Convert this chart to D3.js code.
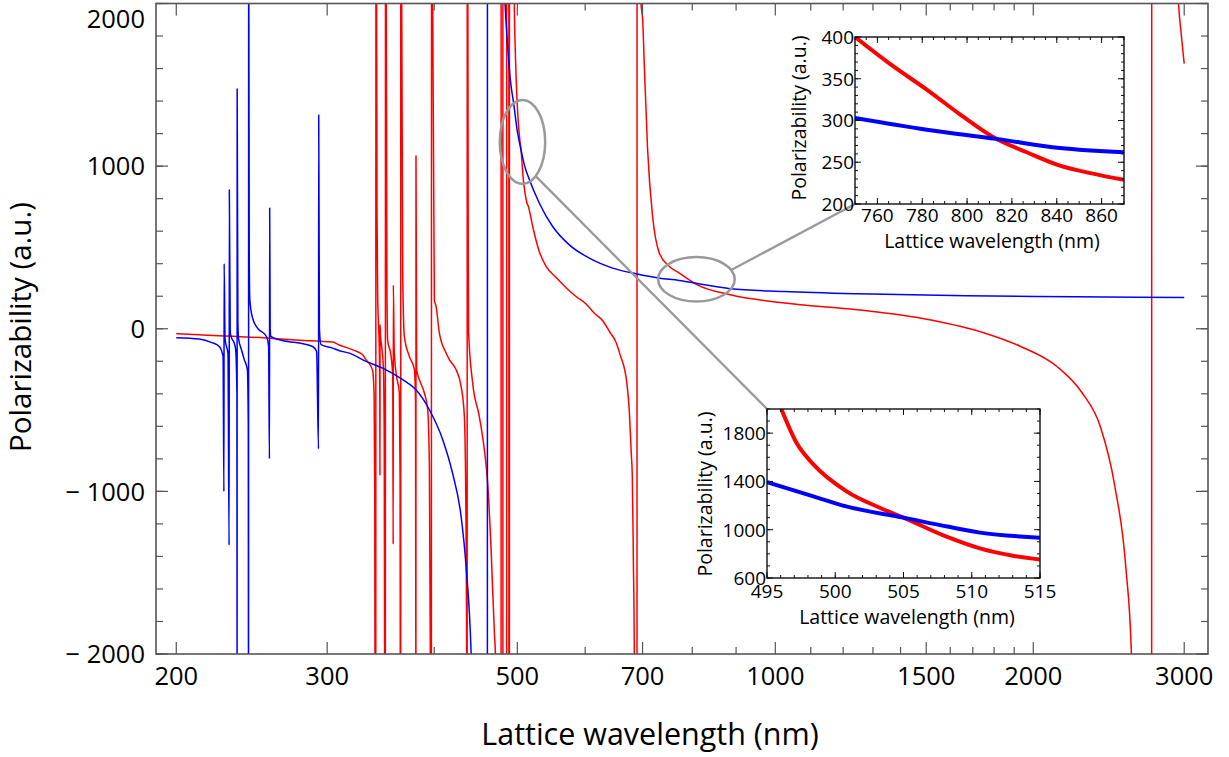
<!DOCTYPE html>
<html>
<head>
<meta charset="utf-8">
<script src="https://cdn.jsdelivr.net/npm/d3@7"></script>
<style>
    html, body { margin: 0; padding: 0; background: #fff; }
    svg { display: block; font-family: 'Open Sans', sans-serif; }
</style>
</head>
<body>
<svg id="chart" width="1229" height="757"></svg>
<script>
// [wavelength (nm), polarizability (a.u.)]; +/-1e4 = off scale
const redCurve = [
    [200, -31], [212.7, -37], [254.5, -57], [278.3, -70], [304.4, -82], [310, -100],
    [318.4, -122], [325, -140], [330, -160], [333, -190], [336, -215], [339, -260],
    [340.3, -400], [340.9, -1000], [341.2, -2600], [341.6, -1e4], [342.2, 1e4],
    [342.6, 2000], [343, 700], [343.6, 200], [344.5, 0], [345.2, -150], [345.55, -400],
    [345.7, -903], [345.8, 25], [346.2, -40], [347.5, -120], [349, -260], [349.7, -700],
    [350.2, -2600], [350.6, -1e4], [351, 1e4], [351.6, 2000], [352.2, 300], [352.9, -68],
    [356.2, -170], [357.8, -300], [358.2, -1325], [358.35, 268], [359.2, -130], [361, -272],
    [364.2, -395], [364.9, -900], [365.2, -2600], [365.4, -1e4], [365.7, 1e4], [366.5, 2000],
    [367.5, 342], [369.1, -47], [374.1, -170], [379.2, -252], [380.4, -450], [380.75, -2600],
    [380.85, 1063], [381.5, -250], [384.3, -313], [389.5, -395], [393, -498], [394.8, -846],
    [395.8, -2000], [396.5, -1e4], [397.5, 1e4], [398.3, 2000], [400.1, 178], [402, 137],
    [405.5, -25], [412.9, -149], [416.6, -190], [424.2, -252], [429.9, -354], [433.7, -539],
    [435.7, -1253], [436.4, -2000], [436.8, -1e4], [437.2, 1e4], [437.8, 2000], [438.3, 400],
    [438.7, -26], [443.5, -334], [451.5, -540], [457.6, -743], [461.7, -948], [466, -1358],
    [470.1, -1868], [471.4, -2000], [474, -5000], [478.6, -1e4], [478.8, 1e4], [480.9, 1e4],
    [481.1, -1e4], [485.8, -1e4], [486, 1e4], [488.7, 1e4], [488.9, -1e4], [489.4, -1e4],
    [489.6, 1e4], [494, 4000], [496, 2000], [497.2, 1722], [498.4, 1541], [500.8, 1304],
    [503.3, 1165], [505, 1100], [508.2, 914], [510.6, 831], [513, 775], [515, 753],
    [521.1, 629], [530, 480], [540.2, 383], [555, 315], [570, 252], [586, 197], [601, 154],
    [615, 95], [629, 49], [641, -20], [652, -84], [660, -170], [666.6, -243], [671, -330],
    [675.6, -510], [679, -760], [681, -907], [683, -1442], [684.7, -2000], [687, -5000],
    [689.6, -1e4], [689.8, 1e4], [694, 5000], [697.1, 2000], [700.2, 1900], [703.4, 1611],
    [709.6, 1100], [719.2, 690], [732.3, 465], [752.2, 383], [772.7, 342], [811, 270],
    [886, 209], [1025, 158], [1246, 117], [1514, 55], [1754, -26], [1933, -109],
    [2131, -232], [2281, -395], [2394, -600], [2490, -969], [2566, -1481], [2603, -1991],
    [2650, -4000], [2748, -1e4], [2750, 1e4], [2900, 4000], [2955, 2000], [2975, 1820],
    [3000, 1630]
];

const blueCurve = [
    [200, -55], [212.7, -63], [220, -85], [224.5, -109], [226.8, -170], [227.3, -1000],
    [227.45, 400], [228.0, -60], [228.6, -98], [229.8, -150], [230.5, -1331],
    [230.65, 855], [231.2, -20], [231.7, -47], [233.7, -88], [234.6, -129], [235.4, -400],
    [235.5, -2600], [235.55, 1475], [236.0, 50], [236.4, -57], [238.3, -129], [240.1, -190],
    [242.1, -252], [242.7, -600], [242.85, -2600], [242.95, 2600], [243.3, 485],
    [243.7, 178], [245.5, 66], [248.8, 4], [254.5, -43], [255.6, -68], [256.3, -109],
    [256.9, -800], [257.05, 743], [257.4, 0], [257.9, -47], [263.8, -68], [278.3, -88],
    [288.5, -109], [291.6, -140], [293.1, -739], [293.25, 1315], [293.8, 0], [295.1, -98],
    [304.4, -119], [310, -135], [318.4, -150], [333, -201], [348.2, -242], [367.5, -313],
    [380.9, -375], [394.8, -498], [409.2, -682], [420.1, -887], [429.9, -1153],
    [435.7, -1460], [441.6, -1990], [448, -3500], [461.3, -1e4], [461.5, 1e4], [475, 3500],
    [483.8, 2000], [487, 1750], [491, 1520], [495, 1390], [500, 1215], [505, 1100],
    [510, 1000], [515, 934], [530.5, 772], [549.8, 629], [575, 516], [606.8, 434],
    [646, 373], [687.9, 338], [732.3, 311], [772.7, 297], [811, 278], [886, 246],
    [1025, 229], [1246, 215], [1670, 203], [2237, 197], [3000, 192]
];

// zoomed views
const redNear810 = [[750, 400], [767, 365], [782, 337], [797, 307], [813, 278], [826.6, 262], [841.4, 246], [855, 237], [870, 229]];
const blueNear810 = [[750, 303], [782, 289], [813, 278], [841.4, 267], [870, 262]];
const redNear505 = [[496.05, 2000], [497.15, 1722], [498.4, 1541], [500.8, 1320], [503.3, 1180], [505, 1100], [508.2, 940], [510.6, 845], [513, 785], [515, 753]];
const blueNear505 = [[495, 1393], [498.4, 1276], [500.8, 1193], [505, 1100], [508.2, 1026], [510.6, 976], [515, 934]];

const xMajorTicks = [200, 300, 500, 700, 1000, 1500, 2000, 3000];
const xMinorTicks = [400, 600, 800, 900, 1100, 1200, 1300, 1400, 1600, 1700, 1800, 1900];
const yMajorTicks = [-2000, -1000, 0, 1000, 2000];

const svg = d3.select('#chart');

const x = d3.scaleLog().domain([189.4, 3198]).range([156, 1208]);
const y = d3.scaleLinear().domain([-2000, 2000]).range([654, 3.5]);

const insetHigh = {
    x: d3.scaleLinear().domain([750, 870]).range([855, 1124]),
    y: d3.scaleLinear().domain([200, 400]).range([204, 37]),
    xMajor: [760, 780, 800, 820, 840, 860], xMinorStep: 5,
    yMajor: [200, 250, 300, 350, 400], yMinorStep: 10
};
const insetLow = {
    x: d3.scaleLinear().domain([495, 515]).range([767, 1040]),
    y: d3.scaleLinear().domain([600, 2000]).range([578, 409]),
    xMajor: [495, 500, 505, 510, 515], xMinorStep: 1,
    yMajor: [600, 1000, 1400, 1800], yMinorStep: 100
};

function minorTicks(scale, step) {
    const [a, b] = scale.domain();
    return d3.range(Math.ceil(a / step) * step, b + 1e-9, step);
}

// frame with inward ticks on all four sides (Mathematica style)
function drawFrame(g, sx, sy, xMaj, xMin, yMaj, yMin, o) {
    const [x0, x1] = sx.range();
    const [y0, y1] = sy.range();
    const ticks = g.append('g').attr('stroke', o.color).attr('stroke-width', o.tickWidth);

    const vt = (v, len) => {
        const px = sx(v);
        ticks.append('line').attr('x1', px).attr('x2', px).attr('y1', y0).attr('y2', y0 - len);
        ticks.append('line').attr('x1', px).attr('x2', px).attr('y1', y1).attr('y2', y1 + len);
    };
    const ht = (v, len) => {
        const py = sy(v);
        ticks.append('line').attr('y1', py).attr('y2', py).attr('x1', x0).attr('x2', x0 + len);
        ticks.append('line').attr('y1', py).attr('y2', py).attr('x1', x1).attr('x2', x1 - len);
    };
    xMin.forEach(v => vt(v, o.minor));
    xMaj.forEach(v => vt(v, o.major));
    yMin.forEach(v => ht(v, o.minor));
    yMaj.forEach(v => ht(v, o.major));

    g.append('rect')
        .attr('x', x0).attr('y', y1)
        .attr('width', x1 - x0).attr('height', y0 - y1)
        .attr('fill', 'none')
        .attr('stroke', o.color)
        .attr('stroke-width', o.frameWidth);
}

function drawCurves(g, sx, sy, series, width, clipId) {
    const [x0, x1] = sx.range();
    const [y0, y1] = sy.range();
    svg.select('defs').append('clipPath').attr('id', clipId)
        .append('rect').attr('x', x0).attr('y', y1).attr('width', x1 - x0).attr('height', y0 - y1);

    const line = d3.line()
        .x(d => sx(d[0]))
        .y(d => sy(d[1]))
        .curve(d3.curveMonotoneX);
    const cg = g.append('g').attr('clip-path', `url(#${clipId})`);
    series.forEach(s => {
        cg.append('path')
            .datum(s.data)
            .attr('d', line)
            .attr('fill', 'none')
            .attr('stroke', s.color)
            .attr('stroke-width', width)
            .attr('stroke-linejoin', 'round');
    });
}

svg.append('defs');

// main plot
const main = svg.append('g');
drawCurves(main, x, y, [
    { data: redCurve, color: '#ff0000' },
    { data: blueCurve, color: '#0000ff' }
], 1.5, 'clipMain');

drawFrame(main, x, y, xMajorTicks, xMinorTicks, yMajorTicks, d3.range(-2000, 2001, 200),
    { color: '#555', tickWidth: 1.2, frameWidth: 1.6, major: 12, minor: 7 });

main.selectAll('.xlab')
    .data(xMajorTicks)
    .enter()
    .append('text')
    .attr('x', d => x(d))
    .attr('y', 685)
    .attr('text-anchor', 'middle')
    .attr('font-size', '25.5px')
    .text(d => d);

// top label is pushed down to stay inside the picture
main.selectAll('.ylab')
    .data(yMajorTicks)
    .enter()
    .append('text')
    .attr('x', 145)
    .attr('y', d => Math.max(y(d), 18.5))
    .attr('dy', '0.36em')
    .attr('text-anchor', 'end')
    .attr('font-size', '25.5px')
    .text(d => d < 0 ? '\u2212 ' + Math.abs(d) : d);

main.append('text')
    .attr('x', 650)
    .attr('y', 745)
    .attr('text-anchor', 'middle')
    .attr('font-size', '30.5px')
    .text('Lattice wavelength (nm)');

main.append('text')
    .attr('transform', 'translate(31, 327) rotate(-90)')
    .attr('text-anchor', 'middle')
    .attr('font-size', '29.5px')
    .text('Polarizability (a.u.)');

// zoom markers: ellipse on the main curve, line to the inset corner
const markers = [
    { at: [507, 1149], rx: 22.7, ry: 42, angle: 54.5, inset: insetLow, corner: 'top' },
    { at: [809, 304], rx: 38.3, ry: 22.2, angle: -24.8, inset: insetHigh, corner: 'bottom' }
];
markers.forEach(m => {
    const cx = x(m.at[0]);
    const cy = y(m.at[1]);
    const t = m.angle * Math.PI / 180;
    const cornerY = m.corner === 'top' ? m.inset.y.range()[1] : m.inset.y.range()[0];
    main.append('line')
        .attr('x1', cx + m.rx * Math.cos(t))
        .attr('y1', cy + m.ry * Math.sin(t))
        .attr('x2', m.inset.x.range()[0])
        .attr('y2', cornerY)
        .attr('stroke', '#999')
        .attr('stroke-width', 2.3);
    main.append('ellipse')
        .attr('cx', cx).attr('cy', cy)
        .attr('rx', m.rx).attr('ry', m.ry)
        .attr('fill', 'none')
        .attr('stroke', '#999')
        .attr('stroke-width', 2.5);
});

// insets
function drawInset(inset, red, blue, id, lab) {
    const g = svg.append('g');
    const [x0, x1] = inset.x.range();
    const [y0, y1] = inset.y.range();
    g.append('rect').attr('x', x0).attr('y', y1).attr('width', x1 - x0).attr('height', y0 - y1).attr('fill', '#fff');

    drawCurves(g, inset.x, inset.y, [
        { data: red, color: '#ff0000' },
        { data: blue, color: '#0000ff' }
    ], 4, id);

    drawFrame(g, inset.x, inset.y, inset.xMajor, minorTicks(inset.x, inset.xMinorStep),
        inset.yMajor, minorTicks(inset.y, inset.yMinorStep),
        { color: '#111', tickWidth: 1, frameWidth: 1.4, major: 6, minor: 3 });

    g.selectAll('.ix')
        .data(inset.xMajor)
        .enter()
        .append('text')
        .attr('x', d => inset.x(d))
        .attr('y', lab.xBase)
        .attr('text-anchor', 'middle')
        .attr('font-size', '19px')
        .text(d => d);

    g.selectAll('.iy')
        .data(inset.yMajor)
        .enter()
        .append('text')
        .attr('x', x0 - 1)
        .attr('y', d => inset.y(d))
        .attr('dy', '0.36em')
        .attr('text-anchor', 'end')
        .attr('font-size', '19px')
        .text(d => d);

    g.append('text')
        .attr('x', lab.titleX)
        .attr('y', lab.titleBase)
        .attr('text-anchor', 'middle')
        .attr('font-size', '19.5px')
        .text('Lattice wavelength (nm)');

    g.append('text')
        .attr('transform', `translate(${lab.yTitleX}, ${lab.yTitleY}) rotate(-90)`)
        .attr('text-anchor', 'middle')
        .attr('font-size', '19.5px')
        .text('Polarizability (a.u.)');
}

drawInset(insetHigh, redNear810, blueNear810, 'clipHigh',
    { xBase: 222, titleX: 992, titleBase: 247.5, yTitleX: 806, yTitleY: 118 });
drawInset(insetLow, redNear505, blueNear505, 'clipLow',
    { xBase: 597.5, titleX: 907, titleBase: 623.5, yTitleX: 712, yTitleY: 494 });
</script>
</body>
</html>
